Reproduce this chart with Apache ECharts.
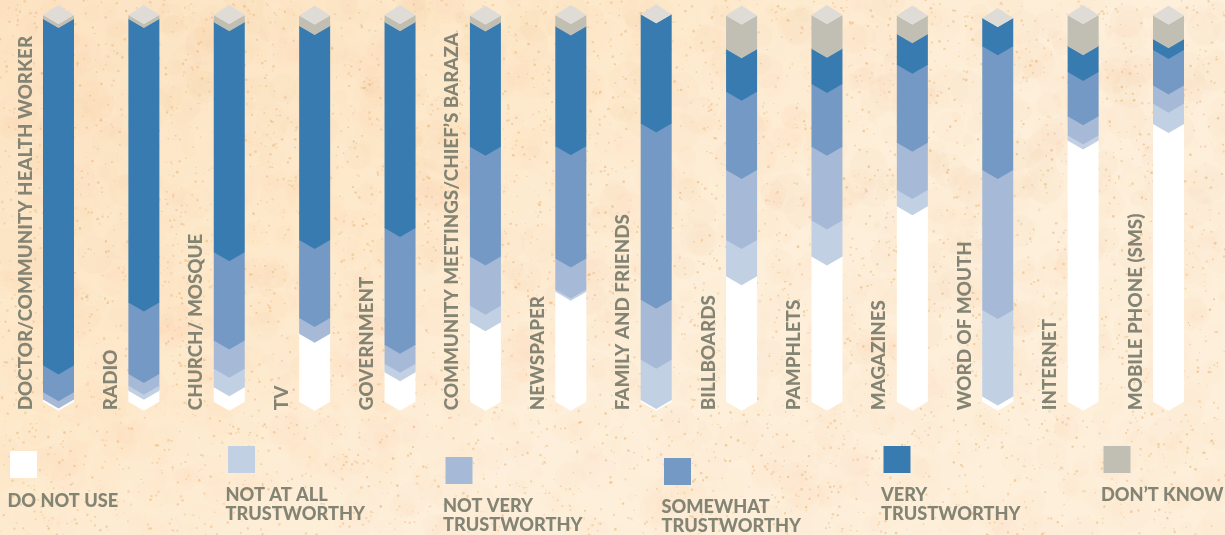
<!DOCTYPE html>
<html>
<head>
<meta charset="utf-8">
<script src="https://cdn.jsdelivr.net/npm/echarts@6/dist/echarts.min.js"></script>
<style>
html,body{margin:0;padding:0;background:#fdebd0;}
#chart{width:1225px;height:535px;}
</style>
</head>
<body>
<div id="chart"></div>
<script>
// ---------- DATA (percent of respondents, bottom to top) ----------
const categories = [
  'DOCTOR/COMMUNITY HEALTH WORKER', 'RADIO', 'CHURCH/ MOSQUE', 'TV', 'GOVERNMENT',
  'COMMUNITY MEETINGS/CHIEF\u2019S BARAZA', 'NEWSPAPER', 'FAMILY AND FRIENDS', 'BILLBOARDS',
  'PAMPHLETS', 'MAGAZINES', 'WORD OF MOUTH', 'INTERNET', 'MOBILE PHONE (SMS)'
];
const doNotUse = [0.7, 3.0, 3.9, 17.7, 7.8, 20.7, 28.6, 0.6, 32.6, 37.7, 50.7, 1.5, 67.7, 72.0];
const notAtAll = [0.0, 1.3, 4.8, 0.0, 2.2, 4.3, 0.6, 10.4, 9.4, 9.3, 4.2, 22.4, 1.3, 5.2];
const notVery  = [1.9, 3.0, 7.3, 4.1, 4.9, 12.7, 8.0, 15.5, 18.1, 19.1, 12.2, 36.2, 5.0, 4.7];
const somewhat = [6.9, 18.5, 22.8, 20.2, 30.2, 28.4, 29.0, 45.6, 20.2, 16.2, 20.2, 32.0, 11.4, 9.2];
const very     = [89.6, 73.3, 59.5, 55.3, 53.2, 32.1, 31.0, 28.1, 11.0, 9.1, 7.9, 7.1, 6.7, 2.8];
const dontKnow = [0.9, 0.9, 1.7, 2.6, 1.7, 1.7, 2.8, 0.0, 8.6, 8.6, 4.7, 0.0, 7.9, 6.0];
const seriesNames = [
  'DO NOT USE', 'NOT AT ALL\nTRUSTWORTHY', 'NOT VERY\nTRUSTWORTHY',
  'SOMEWHAT\nTRUSTWORTHY', 'VERY\nTRUSTWORTHY', 'DON\u2019T KNOW'
];
const seriesValues = [doNotUse, notAtAll, notVery, somewhat, very, dontKnow];

// ---------- STYLE ----------
const COLORS = ['#ffffff', '#c2d0e4', '#a6bad7', '#7499c4', '#377bb0', '#c1bfb4'];
const CAP_COLOR = '#dfdcd7';
const TEXT_COLOR = '#838474';
const FONT_FAMILY = 'Lato, "Liberation Sans", sans-serif';
const BAR_W = 31;
const CHEV = 9;
// legend layout: square x, square y, text cap-top y
const LEGEND_POS = [
  [10, 451, 495], [228, 446, 489], [445.5, 457, 500],
  [664, 458, 501], [883.5, 446, 489], [1103.5, 446, 489]
];

// ---------- background texture ----------
function makeTexture(w, h) {
  const c = document.createElement('canvas');
  c.width = w; c.height = h;
  const g = c.getContext('2d');
  const grd = g.createLinearGradient(0, 0, w * 0.3, h);
  grd.addColorStop(0, '#fce3c2');
  grd.addColorStop(0.55, '#fde9cb');
  grd.addColorStop(1, '#fdefda');
  g.fillStyle = grd;
  g.fillRect(0, 0, w, h);
  let s = 987654321;
  const rnd = () => { s = (s * 1103515245 + 12345) % 2147483648; return s / 2147483648; };
  for (let k = 0; k < 1800; k++) {
    const x = rnd() * w, y = rnd() * h, r = 4 + rnd() * 16;
    const a = (0.02 + 0.04 * rnd()) * (1 - 0.5 * y / h);
    g.fillStyle = 'rgba(242,190,128,' + a.toFixed(3) + ')';
    g.beginPath(); g.arc(x, y, r, 0, Math.PI * 2); g.fill();
  }
  for (let k = 0; k < 900; k++) {
    const x = rnd() * w, y = rnd() * h, r = 3 + rnd() * 10;
    g.fillStyle = 'rgba(255,246,232,' + (0.03 + 0.05 * rnd()).toFixed(3) + ')';
    g.beginPath(); g.arc(x, y, r, 0, Math.PI * 2); g.fill();
  }
  for (let k = 0; k < 26000; k++) {
    const x = rnd() * w, y = rnd() * h, r = 0.4 + rnd() * 0.9;
    g.fillStyle = 'rgba(240,190,128,' + (0.08 + 0.14 * rnd()).toFixed(3) + ')';
    g.beginPath(); g.arc(x, y, r, 0, Math.PI * 2); g.fill();
  }
  return c;
}

// ---------- build series ----------
const stacks = categories.map(() => 0);
const series = seriesValues.map((vals, si) => {
  const data = vals.map((v, i) => {
    const lo = stacks[i];
    stacks[i] += v;
    return [i, lo, lo + v];
  });
  const color = COLORS[si];
  return {
    type: 'custom',
    name: seriesNames[si],
    coordinateSystem: 'cartesian2d',
    clip: false,
    silent: true,
    z: 2,
    data: data,
    renderItem: function (params, api) {
      const i = api.value(0), lo = api.value(1), hi = api.value(2);
      if (hi - lo <= 0) return null;
      const pLo = api.coord([i, lo]);
      const pHi = api.coord([i, hi]);
      const xc = pLo[0], hw = BAR_W / 2;
      const yb = pLo[1] + (lo > 0 ? 0.6 : 0);
      return {
        type: 'polygon',
        shape: { points: [
          [xc - hw, pHi[1]], [xc, pHi[1] + CHEV], [xc + hw, pHi[1]],
          [xc + hw, yb], [xc, yb + CHEV], [xc - hw, yb]
        ] },
        style: { fill: color }
      };
    }
  };
});
// top cap (rhombus face) on each column
series.push({
  type: 'custom',
  coordinateSystem: 'cartesian2d',
  clip: false, silent: true, z: 3,
  data: stacks.map((t, i) => [i, t]),
  renderItem: function (params, api) {
    const p = api.coord([api.value(0), api.value(1)]);
    const xc = p[0], hw = BAR_W / 2, y = p[1];
    return {
      type: 'polygon',
      shape: { points: [[xc - hw, y], [xc, y - 10], [xc + hw, y], [xc, y + CHEV]] },
      style: { fill: CAP_COLOR }
    };
  }
});
// category labels, rotated, left of each column
series.push({
  type: 'custom',
  coordinateSystem: 'cartesian2d',
  clip: false, silent: true, z: 3,
  data: categories.map((c, i) => [i, 0]),
  renderItem: function (params, api) {
    const i = api.value(0);
    const p = api.coord([i, 0]);
    return {
      type: 'text',
      x: p[0] - 33,
      y: p[1] + 8.5,
      rotation: Math.PI / 2,
      style: {
        text: categories[i],
        fill: TEXT_COLOR,
        fontFamily: FONT_FAMILY,
        fontWeight: 900,
        fontSize: 18.8,
        align: 'left',
        verticalAlign: 'middle'
      }
    };
  }
});

// ---------- legend (graphic) ----------
const graphics = [{
  type: 'image', left: 0, top: 0, z: -10, silent: true,
  style: { image: makeTexture(1225, 535), width: 1225, height: 535 }
}];
seriesNames.forEach((name, k) => {
  const pos = LEGEND_POS[k];
  graphics.push({
    type: 'rect', silent: true, z: 5,
    shape: { x: pos[0], y: pos[1], width: 27, height: 27 },
    style: { fill: COLORS[k] }
  });
  graphics.push({
    type: 'text', silent: true, z: 5,
    x: pos[0] - 2.5, y: pos[2] - 3.5,
    style: {
      text: name, fill: TEXT_COLOR,
      fontFamily: FONT_FAMILY, fontWeight: 900, fontSize: 18.2,
      lineHeight: 19, align: 'left', verticalAlign: 'top'
    }
  });
});

const chart = echarts.init(document.getElementById('chart'), null, { renderer: 'canvas' });
chart.setOption({
  animation: false,
  backgroundColor: '#fdebd0',
  grid: { left: 15.8, right: 13.8, top: 15, bottom: 133.3, containLabel: false },
  xAxis: {
    type: 'category', data: categories, boundaryGap: true,
    axisLine: { show: false }, axisTick: { show: false }, axisLabel: { show: false },
    splitLine: { show: false }
  },
  yAxis: {
    type: 'value', min: 0, max: 100, interval: 20,
    axisLine: { show: false }, axisTick: { show: false }, axisLabel: { show: false },
    splitLine: { show: false }
  },
  graphic: graphics,
  series: series
});
</script>
</body>
</html>
